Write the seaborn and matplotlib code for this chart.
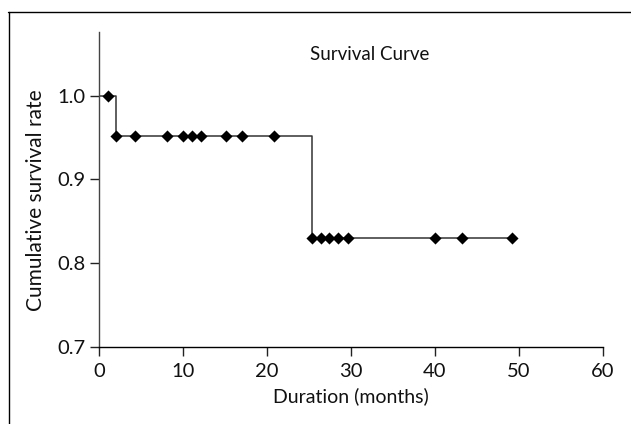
import matplotlib
matplotlib.use("Agg")
import matplotlib.pyplot as plt
import seaborn as sns
import pandas as pd
from matplotlib.lines import Line2D

# Kaplan-Meier step curve (event times and survival after each step)
step_times = [0.0, 2.0, 25.3, 49.2]
step_surv = [1.0, 0.952, 0.830, 0.830]

# Censored observations (diamond markers)
censor_times = [1.1, 2.0, 4.3, 8.1, 10.0, 11.1, 12.1, 15.1, 17.0, 20.8,
                25.3, 26.4, 27.4, 28.5, 29.6, 40.0, 43.2, 49.2]
censor_surv = [1.0, 0.952, 0.952, 0.952, 0.952, 0.952, 0.952, 0.952, 0.952, 0.952,
               0.830, 0.830, 0.830, 0.830, 0.830, 0.830, 0.830, 0.830]

x_ticks = [0, 10, 20, 30, 40, 50, 60]
y_ticks = [0.7, 0.8, 0.9, 1.0]

title = "Survival Curve"
x_label = "Duration (months)"
y_label = "Cumulative survival rate"

sns.set_style("ticks")
plt.rcParams["font.family"] = ["Lato", "DejaVu Sans"]

fig = plt.figure(figsize=(6.31, 4.24), dpi=100)
ax = fig.add_axes([99 / 631, 1 - 347 / 424, 504 / 631, 315 / 424])

line_df = pd.DataFrame({"t": step_times, "s": step_surv})
cens_df = pd.DataFrame({"t": censor_times, "s": censor_surv})

sns.lineplot(data=line_df, x="t", y="s", ax=ax, drawstyle="steps-post",
             color="#333333", linewidth=1.1, estimator=None, sort=False)
sns.scatterplot(data=cens_df, x="t", y="s", ax=ax, marker="D", s=38,
                color="black", edgecolor="black", linewidth=0, zorder=3)

ax.set_xlim(0, 60)
ax.set_ylim(0.7, 1.076)
ax.set_xticks(x_ticks)
ax.set_xticklabels([str(v) for v in x_ticks])
ax.set_yticks(y_ticks)
ax.set_yticklabels([f"{v:.1f}" for v in y_ticks])

sns.despine(ax=ax)
ax.spines["left"].set_color("#444444")
ax.spines["left"].set_linewidth(1.0)
ax.spines["bottom"].set_color("black")
ax.spines["bottom"].set_linewidth(1.0)
ax.tick_params(axis="both", direction="out", length=6.5, width=1.0,
               color="#222222", labelsize=14.5, labelcolor="#111111")
ax.tick_params(axis="x", pad=5)
ax.tick_params(axis="y", pad=3)

ax.set_xlabel(x_label, fontsize=14, color="#111111", labelpad=5)
ax.set_ylabel(y_label, fontsize=15, color="#111111")
ax.yaxis.set_label_coords(-0.105, 0.467)
ax.text(0.538, 0.927, title, transform=ax.transAxes, ha="center", va="center",
        fontsize=13.5, color="#111111")

# Outer frame lines (top and left)
fig.add_artist(Line2D([8 / 631, 1.0], [1 - 11.5 / 424, 1 - 11.5 / 424],
                      transform=fig.transFigure, color="black", linewidth=1.0))
fig.add_artist(Line2D([9 / 631, 9 / 631], [0, 1 - 11.5 / 424],
                      transform=fig.transFigure, color="black", linewidth=1.0))

fig.savefig("out.png", dpi=100, facecolor="white")
